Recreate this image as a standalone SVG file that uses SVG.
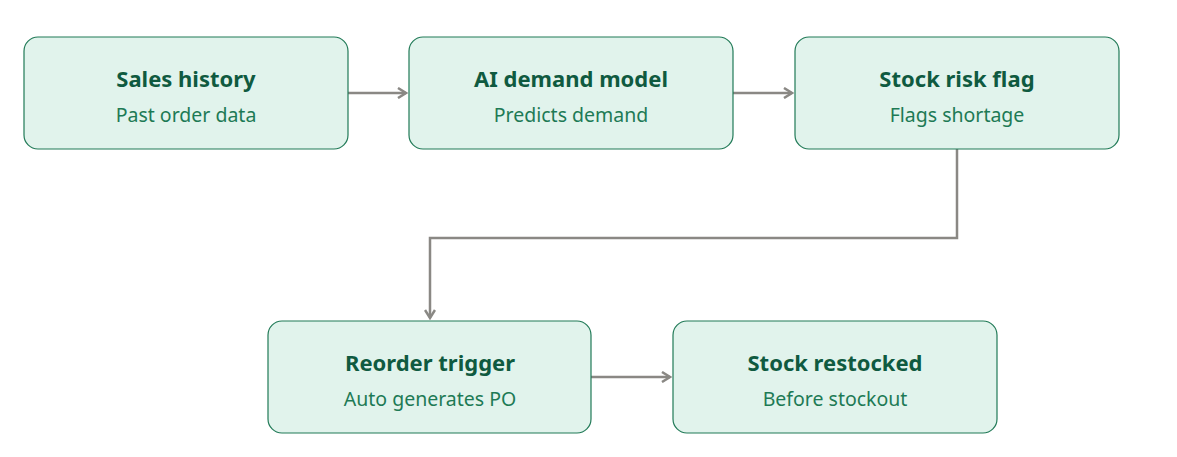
<svg xmlns="http://www.w3.org/2000/svg" width="1177" height="457" viewBox="0 0 1177 457">
<style>
.box{fill:#e1f3ec;stroke:#217a57;stroke-width:1.2}
.t{font-family:"Noto Sans","Open Sans",sans-serif;font-weight:bold;font-size:22px;fill:#0f5a40;text-anchor:middle}
.s{font-family:"Noto Sans","Open Sans",sans-serif;font-size:19.5px;fill:#1d7a55;text-anchor:middle}
.c{fill:none;stroke:#8a8884;stroke-width:2.5}
</style>
<defs><marker id="a" viewBox="0 0 12 12" refX="10" refY="6" markerWidth="12" markerHeight="12" markerUnits="userSpaceOnUse" orient="auto"><path d="M2,1 L10,6 L2,11" fill="none" stroke="#8a8884" stroke-width="2.5"/></marker></defs>
<rect width="1177" height="457" fill="#fff"/>
<g id="connectors">
<path class="c" d="M348,93 H406" marker-end="url(#a)"/>
<path class="c" d="M733,93 H792" marker-end="url(#a)"/>
<path class="c" d="M957,149 V238 H430 V318" marker-end="url(#a)"/>
<path class="c" d="M591,377 H670" marker-end="url(#a)"/>
</g>
<g id="n1"><rect class="box" x="24" y="37" width="324" height="112" rx="14"/><text class="t" x="186" y="87">Sales history</text><text class="s" x="186" y="122">Past order data</text></g>
<g id="n2"><rect class="box" x="409" y="37" width="324" height="112" rx="14"/><text class="t" x="571" y="87">AI demand model</text><text class="s" x="571" y="122">Predicts demand</text></g>
<g id="n3"><rect class="box" x="795" y="37" width="324" height="112" rx="14"/><text class="t" x="957" y="87">Stock risk flag</text><text class="s" x="957" y="122">Flags shortage</text></g>
<g id="n4"><rect class="box" x="268" y="321" width="323" height="112" rx="14"/><text class="t" x="430" y="371">Reorder trigger</text><text class="s" x="430" y="406">Auto generates PO</text></g>
<g id="n5"><rect class="box" x="673" y="321" width="324" height="112" rx="14"/><text class="t" x="835" y="371">Stock restocked</text><text class="s" x="835" y="406">Before stockout</text></g>
</svg>
